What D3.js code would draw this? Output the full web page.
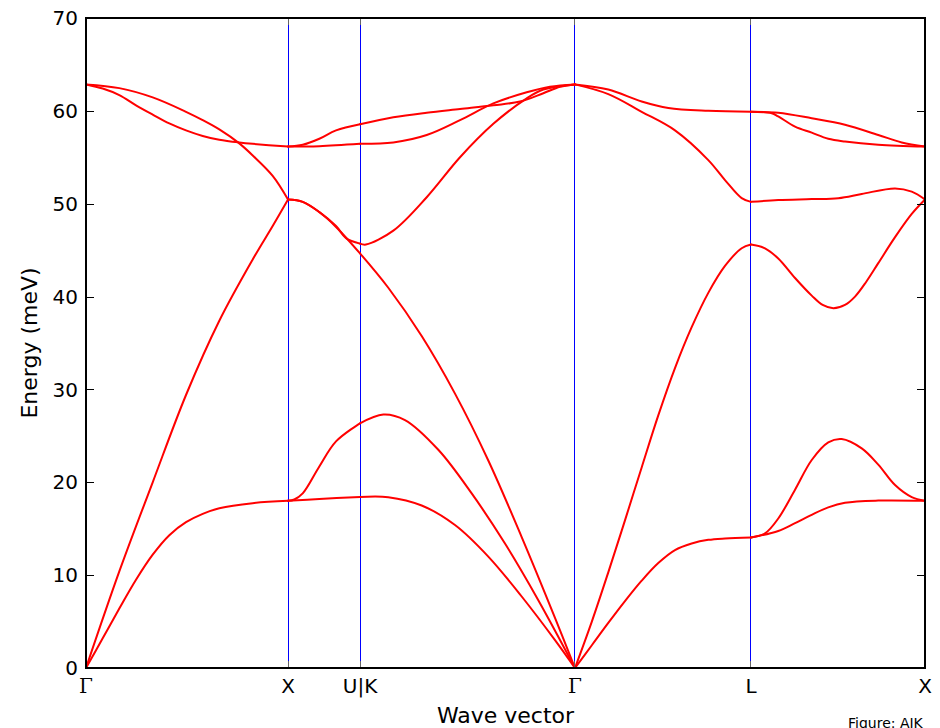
<!DOCTYPE html>
<html>
<head>
<meta charset="utf-8">
<script src="https://cdn.jsdelivr.net/npm/d3@7"></script>
<style>
  html, body { margin: 0; padding: 0; background: #fff; }
  svg { display: block; }
  text { font-family: "DejaVu Sans", sans-serif; fill: #000; }
</style>
</head>
<body>
<svg id="chart" width="940" height="728"></svg>
<script>
// ---- high-symmetry path (normalised wave-vector coordinate) ----
const kTicks  = [0, 0.2408, 0.3266, 0.5828, 0.7926, 1.0];
const kLabels = ["Γ", "X", "U|K", "Γ", "L", "X"];
const yTicks  = [0, 10, 20, 30, 40, 50, 60, 70];

// ---- phonon branches, [k, energy meV] per path segment ----
// Γ → X
const gx_TA = [[0,0],[0.0199,3.2],[0.0397,6.4],[0.0596,9.5],[0.0795,12.2],[0.0993,14.3],[0.1192,15.7],[0.1391,16.6],[0.1589,17.2],[0.1987,17.75],[0.2408,18.0]];
const gx_LA = [[0,0],[0.0397,10.4],[0.0795,20.0],[0.1192,29.4],[0.1589,37.4],[0.1987,44.0],[0.2225,47.6],[0.2408,50.45]];
const gx_LO = [[0,62.85],[0.0397,62.45],[0.0795,61.45],[0.1192,59.9],[0.1391,59.0],[0.1589,58.0],[0.1827,56.5],[0.1987,55.2],[0.2225,53.0],[0.2408,50.45]];
const gx_TO = [[0,62.85],[0.0199,62.4],[0.0397,61.7],[0.0596,60.6],[0.0795,59.6],[0.0993,58.65],[0.1192,57.9],[0.1391,57.3],[0.1589,56.9],[0.1827,56.6],[0.1987,56.45],[0.2408,56.15]];
// X → U|K
const xk_TA1 = [[0.2408,18.0],[0.2781,18.2],[0.3266,18.42]];
const xk_TA2 = [[0.2408,18.0],[0.2483,18.15],[0.2583,18.8],[0.2781,21.7],[0.2980,24.4],[0.3266,26.35]];
const xk_LA  = [[0.2408,50.45],[0.2583,50.2],[0.2781,49.1],[0.2980,47.5],[0.3266,44.65]];
const xk_LO  = [[0.2408,50.45],[0.2583,50.2],[0.2781,49.1],[0.2980,47.6],[0.3099,46.3],[0.3266,45.7]];
const xk_TO1 = [[0.2408,56.15],[0.2583,56.35],[0.2781,57.0],[0.2980,57.9],[0.3266,58.55]];
const xk_TO2 = [[0.2408,56.15],[0.2781,56.2],[0.3266,56.45]];
// U|K → Γ
const kg_TA1 = [[0.3266,18.42],[0.3603,18.4],[0.4001,17.5],[0.4398,15.4],[0.4795,12.0],[0.5193,7.7],[0.5590,3.0],[0.5828,0]];
const kg_TA2 = [[0.3266,26.35],[0.3544,27.3],[0.3802,26.7],[0.4199,23.5],[0.4597,18.8],[0.4994,13.4],[0.5391,7.3],[0.5828,0]];
const kg_LA  = [[0.3266,44.65],[0.3603,40.95],[0.4001,35.75],[0.4398,29.55],[0.4795,22.35],[0.5193,14.1],[0.5590,5.4],[0.5828,0]];
const kg_LO  = [[0.3266,45.7],[0.3337,45.6],[0.3663,47.1],[0.4061,50.7],[0.4458,55.0],[0.4855,58.6],[0.5253,61.35],[0.5451,62.3],[0.5828,62.85]];
const kg_TO1 = [[0.3266,58.55],[0.3663,59.3],[0.4061,59.8],[0.4458,60.2],[0.4855,60.6],[0.5173,61.0],[0.5451,61.9],[0.5650,62.6],[0.5828,62.85]];
const kg_TO2 = [[0.3266,56.45],[0.3663,56.6],[0.4061,57.4],[0.4458,59.0],[0.4855,60.8],[0.5253,62.0],[0.5530,62.6],[0.5828,62.85]];
// Γ → L
const gl_TA = [[0.5828,0],[0.6029,2.45],[0.6225,4.85],[0.6424,7.2],[0.6623,9.4],[0.6821,11.3],[0.7020,12.7],[0.7219,13.4],[0.7417,13.8],[0.7616,13.95],[0.7926,14.05]];
const gl_LA = [[0.5828,0],[0.6029,5.0],[0.6225,10.3],[0.6424,15.9],[0.6623,21.6],[0.6821,27.2],[0.7020,32.3],[0.7219,36.7],[0.7417,40.4],[0.7616,43.3],[0.7815,45.2],[0.7926,45.6]];
const gl_LO = [[0.5828,62.85],[0.6225,61.8],[0.6623,59.9],[0.7020,57.9],[0.7417,54.7],[0.7616,52.55],[0.7815,50.6],[0.7926,50.2]];
const gl_TO = [[0.5828,62.85],[0.6225,62.3],[0.6623,61.0],[0.6941,60.3],[0.7417,60.0],[0.7926,59.9]];
// L → X
const lx_TA1 = [[0.7926,14.05],[0.8093,14.5],[0.8251,16.1],[0.8451,19.2],[0.8650,22.4],[0.8847,24.3],[0.9007,24.66],[0.9246,23.65],[0.9443,21.9],[0.9643,19.7],[0.9842,18.4],[1.0,18.0]];
const lx_TA2 = [[0.7926,14.05],[0.8251,14.75],[0.8451,15.6],[0.8650,16.5],[0.8847,17.3],[0.9046,17.8],[0.9443,18.03],[1.0,18.0]];
const lx_LA  = [[0.7926,45.6],[0.8093,45.2],[0.8251,44.1],[0.8451,42.0],[0.8650,40.1],[0.8780,39.1],[0.8907,38.75],[0.9046,39.1],[0.9166,40.0],[0.9300,41.6],[0.9443,43.6],[0.9643,46.4],[0.9842,48.9],[1.0,50.45]];
const lx_LO  = [[0.7926,50.2],[0.8251,50.4],[0.8650,50.5],[0.8967,50.6],[0.9246,51.05],[0.9643,51.65],[0.9842,51.3],[1.0,50.45]];
const lx_TO1 = [[0.7926,59.9],[0.8251,59.8],[0.8650,59.2],[0.9046,58.5],[0.9443,57.4],[0.9723,56.6],[1.0,56.15]];
const lx_TO2 = [[0.7926,59.9],[0.8173,59.75],[0.8251,59.4],[0.8451,58.3],[0.8650,57.65],[0.8847,57.0],[0.9046,56.7],[0.9443,56.35],[1.0,56.15]];

const branches = [
  gx_TA, gx_LA, gx_LO, gx_TO,
  xk_TA1, xk_TA2, xk_LA, xk_LO, xk_TO1, xk_TO2,
  kg_TA1, kg_TA2, kg_LA, kg_LO, kg_TO1, kg_TO2,
  gl_TA, gl_LA, gl_LO, gl_TO,
  lx_TA1, lx_TA2, lx_LA, lx_LO, lx_TO1, lx_TO2
];

// ---- layout ----
const L = 86, R = 925, T = 18, B = 668;
const svg = d3.select("#chart");
const x = d3.scaleLinear().domain([0, 1]).range([L, R]);
const y = d3.scaleLinear().domain([0, 70]).range([B, T]);
const crisp = v => Math.round(v) + 0.5;
// snap a 1px vertical rule onto an even pixel column (keeps thin blue rules blue after image compression)
const evenCol = v => { let p = Math.round(v); if (p % 2) p -= 1; return p + 0.5; };

svg.append("defs").append("clipPath").attr("id", "clip")
  .append("rect").attr("x", L).attr("y", T).attr("width", R - L).attr("height", B - T);

// vertical blue lines at high-symmetry points
svg.append("g").selectAll("line").data(kTicks.slice(1, -1)).join("line")
  .attr("x1", d => evenCol(x(d))).attr("x2", d => evenCol(x(d)))
  .attr("y1", T).attr("y2", B)
  .attr("stroke", "#0000ff").attr("stroke-width", 1);

// branches
const line = d3.line().x(d => x(d[0])).y(d => y(d[1])).curve(d3.curveCatmullRom.alpha(0.5));
svg.append("g").attr("clip-path", "url(#clip)")
  .selectAll("path").data(branches).join("path")
  .attr("d", line)
  .attr("fill", "none").attr("stroke", "#ff0000")
  .attr("stroke-width", 2).attr("stroke-linejoin", "round").attr("stroke-linecap", "round");

// tick marks (inside)
const tk = svg.append("g").attr("stroke", "#000").attr("stroke-width", 1);
yTicks.forEach(v => {
  tk.append("line").attr("x1", L).attr("x2", L + 8).attr("y1", crisp(y(v))).attr("y2", crisp(y(v)));
  tk.append("line").attr("x1", R - 8).attr("x2", R).attr("y1", crisp(y(v))).attr("y2", crisp(y(v)));
});
kTicks.forEach(v => {
  tk.append("line").attr("x1", evenCol(x(v))).attr("x2", evenCol(x(v))).attr("y1", B).attr("y2", B - 7).attr("stroke", "#666");
  tk.append("line").attr("x1", evenCol(x(v))).attr("x2", evenCol(x(v))).attr("y1", T).attr("y2", T + 7).attr("stroke", "#666");
});

// frame
svg.append("rect").attr("x", L).attr("y", T).attr("width", R - L).attr("height", B - T)
  .attr("fill", "none").attr("stroke", "#000").attr("stroke-width", 2);

// y tick labels
svg.append("g").selectAll("text").data(yTicks).join("text")
  .attr("x", L - 8).attr("y", d => y(d)).attr("dy", "0.36em")
  .attr("text-anchor", "end").attr("font-size", 20)
  .text(d => d);

// x tick labels
svg.append("g").selectAll("text").data(kTicks).join("text")
  .attr("x", d => x(d)).attr("y", 693)
  .attr("text-anchor", "middle").attr("font-size", 20)
  .style("font-family", (d, i) => kLabels[i] === "Γ" ? "'DejaVu Serif', serif" : null)
  .text((d, i) => kLabels[i]);

// axis titles
svg.append("text").attr("x", (L + R) / 2).attr("y", 723)
  .attr("text-anchor", "middle").attr("font-size", 22).text("Wave vector");
svg.append("text").attr("transform", `translate(37,${(T + B) / 2}) rotate(-90)`)
  .attr("text-anchor", "middle").attr("font-size", 22).text("Energy (meV)");

// credit
svg.append("text").attr("x", 848).attr("y", 728).attr("font-size", 14).text("Figure: AJK");
</script>
</body>
</html>
